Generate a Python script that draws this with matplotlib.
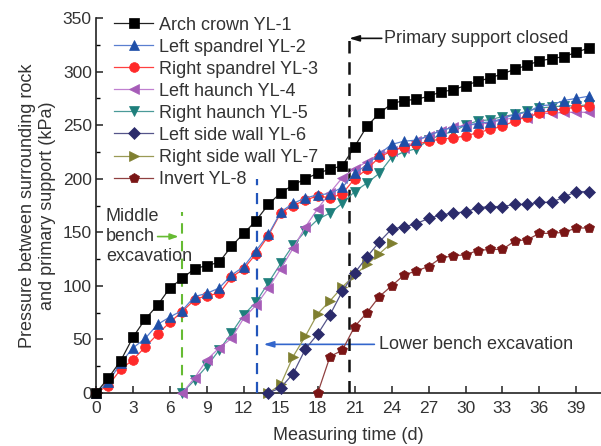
import matplotlib
matplotlib.use("Agg")
import matplotlib.pyplot as plt
from matplotlib.ticker import MultipleLocator

plt.rcParams['font.family'] = ['Liberation Sans', 'DejaVu Sans']

# ---- data (kPa), measured daily ----
start_yl1 = 0
yl1 = [0, 14, 30, 52, 69, 82, 98, 107, 116, 119, 122,
       137, 149, 161, 176, 187, 194, 200, 205, 209, 212,
       230, 249, 261, 270, 273, 274, 277, 281, 283, 287,
       291, 294, 298, 302, 306, 310, 312, 314, 318, 322]
start_yl2 = 0
yl2 = [0, 10, 28, 42, 51, 64, 71, 77, 90, 93, 98,
       110, 118, 133, 148, 169, 177, 182, 185, 186, 192,
       205, 213, 223, 232, 235, 236, 240, 245, 248, 249,
       252, 253, 256, 260, 262, 268, 269, 273, 275, 277]
start_yl3 = 0
yl3 = [0, 7, 22, 31, 43, 55, 66, 76, 87, 91, 93,
       108, 116, 130, 147, 168, 175, 180, 184, 182, 186,
       200, 209, 220, 226, 230, 232, 235, 237, 238, 240,
       243, 246, 249, 254, 258, 261, 264, 265, 267, 268]
start_yl4 = 7
yl4 = [0, 14, 31, 42,
       51, 70, 82, 98, 116, 135, 155, 172, 187, 201,
       209, 216, 223, 226, 229, 235, 240, 245, 248, 250,
       251, 252, 255, 257, 257, 261, 261, 262, 262, 262]
start_yl5 = 7
yl5 = [0, 12, 25, 40,
       56, 73, 85, 103, 121, 138, 151, 162, 168, 177,
       188, 196, 205, 220, 225, 228, 236, 241, 244, 250,
       254, 255, 258, 260, 263, 266, 267, 268, 268, 269]
start_yl6 = 14
yl6 = [0, 5, 18, 41, 55, 73, 95, 112, 127, 141, 153, 155, 158, 163,
       166, 168, 169, 173, 174, 174, 176, 176, 178, 178, 183, 188, 188]
start_yl7 = 14
yl7 = [0, 8, 34, 53, 74, 86, 99, 110, 120, 130, 140]
start_yl8 = 18
yl8 = [0, 34, 40, 62, 75, 90, 100, 110, 114, 118, 126, 128, 129, 133,
       134, 134, 142, 143, 149, 149, 150, 154, 154]

labels = ["Arch crown YL-1", "Left spandrel YL-2", "Right spandrel YL-3",
          "Left haunch YL-4", "Right haunch YL-5", "Left side wall YL-6",
          "Right side wall YL-7", "Invert YL-8"]
series = [yl1, yl2, yl3, yl4, yl5, yl6, yl7, yl8]
starts = [start_yl1, start_yl2, start_yl3, start_yl4, start_yl5,
          start_yl6, start_yl7, start_yl8]

markers = ['s', '^', 'o', '<', 'v', 'D', '>', 'p']
mcolors = ['#000000', '#1f4fa8', '#ff2a2a', '#a65cb8', '#1e7f7c',
           '#2b2b6b', '#7f7f30', '#7a1515']
lcolors = ['#222222', '#5a7fd0', '#ff4040', '#c080d0', '#4a9a98',
           '#55558a', '#9a9a55', '#904040']
msizes = [6.5, 7.5, 7, 7.5, 7.5, 6, 7.5, 7.5]

# events (day)
day_middle = 7
day_lower = 13.1
day_closed = 20.5

text_color = '#333333'

fig = plt.figure(figsize=(6.01, 4.46), dpi=100)
ax = fig.add_axes([96/601, 53/446, 505/601, 375/446])

for i, (ys, s0) in enumerate(zip(series, starts)):
    xs = [s0 + k for k in range(len(ys))]
    ax.plot(xs, ys, color=lcolors[i], lw=0.9, marker=markers[i],
            ms=msizes[i], mfc=mcolors[i], mec=mcolors[i], mew=0.5,
            label=labels[i], zorder=20 - i, clip_on=False)

ax.set_xlim(0, 41)
ax.set_ylim(0, 350)
ax.xaxis.set_major_locator(MultipleLocator(3))
ax.yaxis.set_major_locator(MultipleLocator(50))
ax.yaxis.set_minor_locator(MultipleLocator(25))
for sp in ['top', 'right']:
    ax.spines[sp].set_visible(False)
for sp in ['left', 'bottom']:
    ax.spines[sp].set_color('#222222')
    ax.spines[sp].set_linewidth(1.2)
ax.tick_params(axis='both', which='major', direction='in', length=5,
               width=1.1, labelsize=12.5, colors='#222222',
               labelcolor=text_color, pad=3)
ax.tick_params(axis='x', which='major', pad=6)
ax.tick_params(axis='y', which='minor', direction='in', length=3, width=1.0)

ax.set_xlabel("Measuring time (d)", fontsize=13, color=text_color, labelpad=8)
ax.set_ylabel("Pressure between surrounding rock\nand primary support (kPa)",
              fontsize=13, color=text_color, labelpad=5, linespacing=1.2)

# event lines
ax.plot([day_middle, day_middle], [0, 169], ls=(0, (5, 3.5)), color='#66bb33',
        lw=1.5, zorder=5)
ax.plot([day_lower, day_lower], [0, 200], ls=(0, (5, 3.5)), color='#2255bb',
        lw=1.6, zorder=5)
ax.plot([day_closed, day_closed], [0, 331], ls=(0, (5, 3.5)), color='#111111',
        lw=1.8, zorder=5)

# annotations
ax.text(0.8, 146, "Middle\nbench\nexcavation", fontsize=13, color=text_color,
        ha='left', va='center', linespacing=1.25, zorder=30)
ax.annotate("", xy=(6.7, 146), xytext=(5.0, 146),
            arrowprops=dict(arrowstyle='-|>,head_length=0.5,head_width=0.18',
                            color='#66bb33', lw=1.2, shrinkA=0, shrinkB=0))

ax.text(23.0, 45.4, "Lower bench excavation", fontsize=13, color=text_color,
        ha='left', va='center', zorder=30)
ax.annotate("", xy=(13.6, 45.4), xytext=(22.6, 45.4),
            arrowprops=dict(arrowstyle='-|>,head_length=0.6,head_width=0.18',
                            color='#3366cc', lw=1.2, shrinkA=0, shrinkB=0))

ax.text(23.4, 331, "Primary support closed", fontsize=13, color=text_color,
        ha='left', va='center', zorder=30)
ax.annotate("", xy=(20.55, 331), xytext=(23.2, 331),
            arrowprops=dict(arrowstyle='-|>,head_length=0.6,head_width=0.18',
                            color='#111111', lw=1.2, shrinkA=0, shrinkB=0))

leg = ax.legend(loc='upper left', bbox_to_anchor=(0.035, 1.004), frameon=False,
                fontsize=13, handlelength=2.2, handletextpad=0.3,
                labelspacing=0.28, borderaxespad=0, borderpad=0)
for t in leg.get_texts():
    t.set_color(text_color)

fig.savefig("out.png", dpi=100)
